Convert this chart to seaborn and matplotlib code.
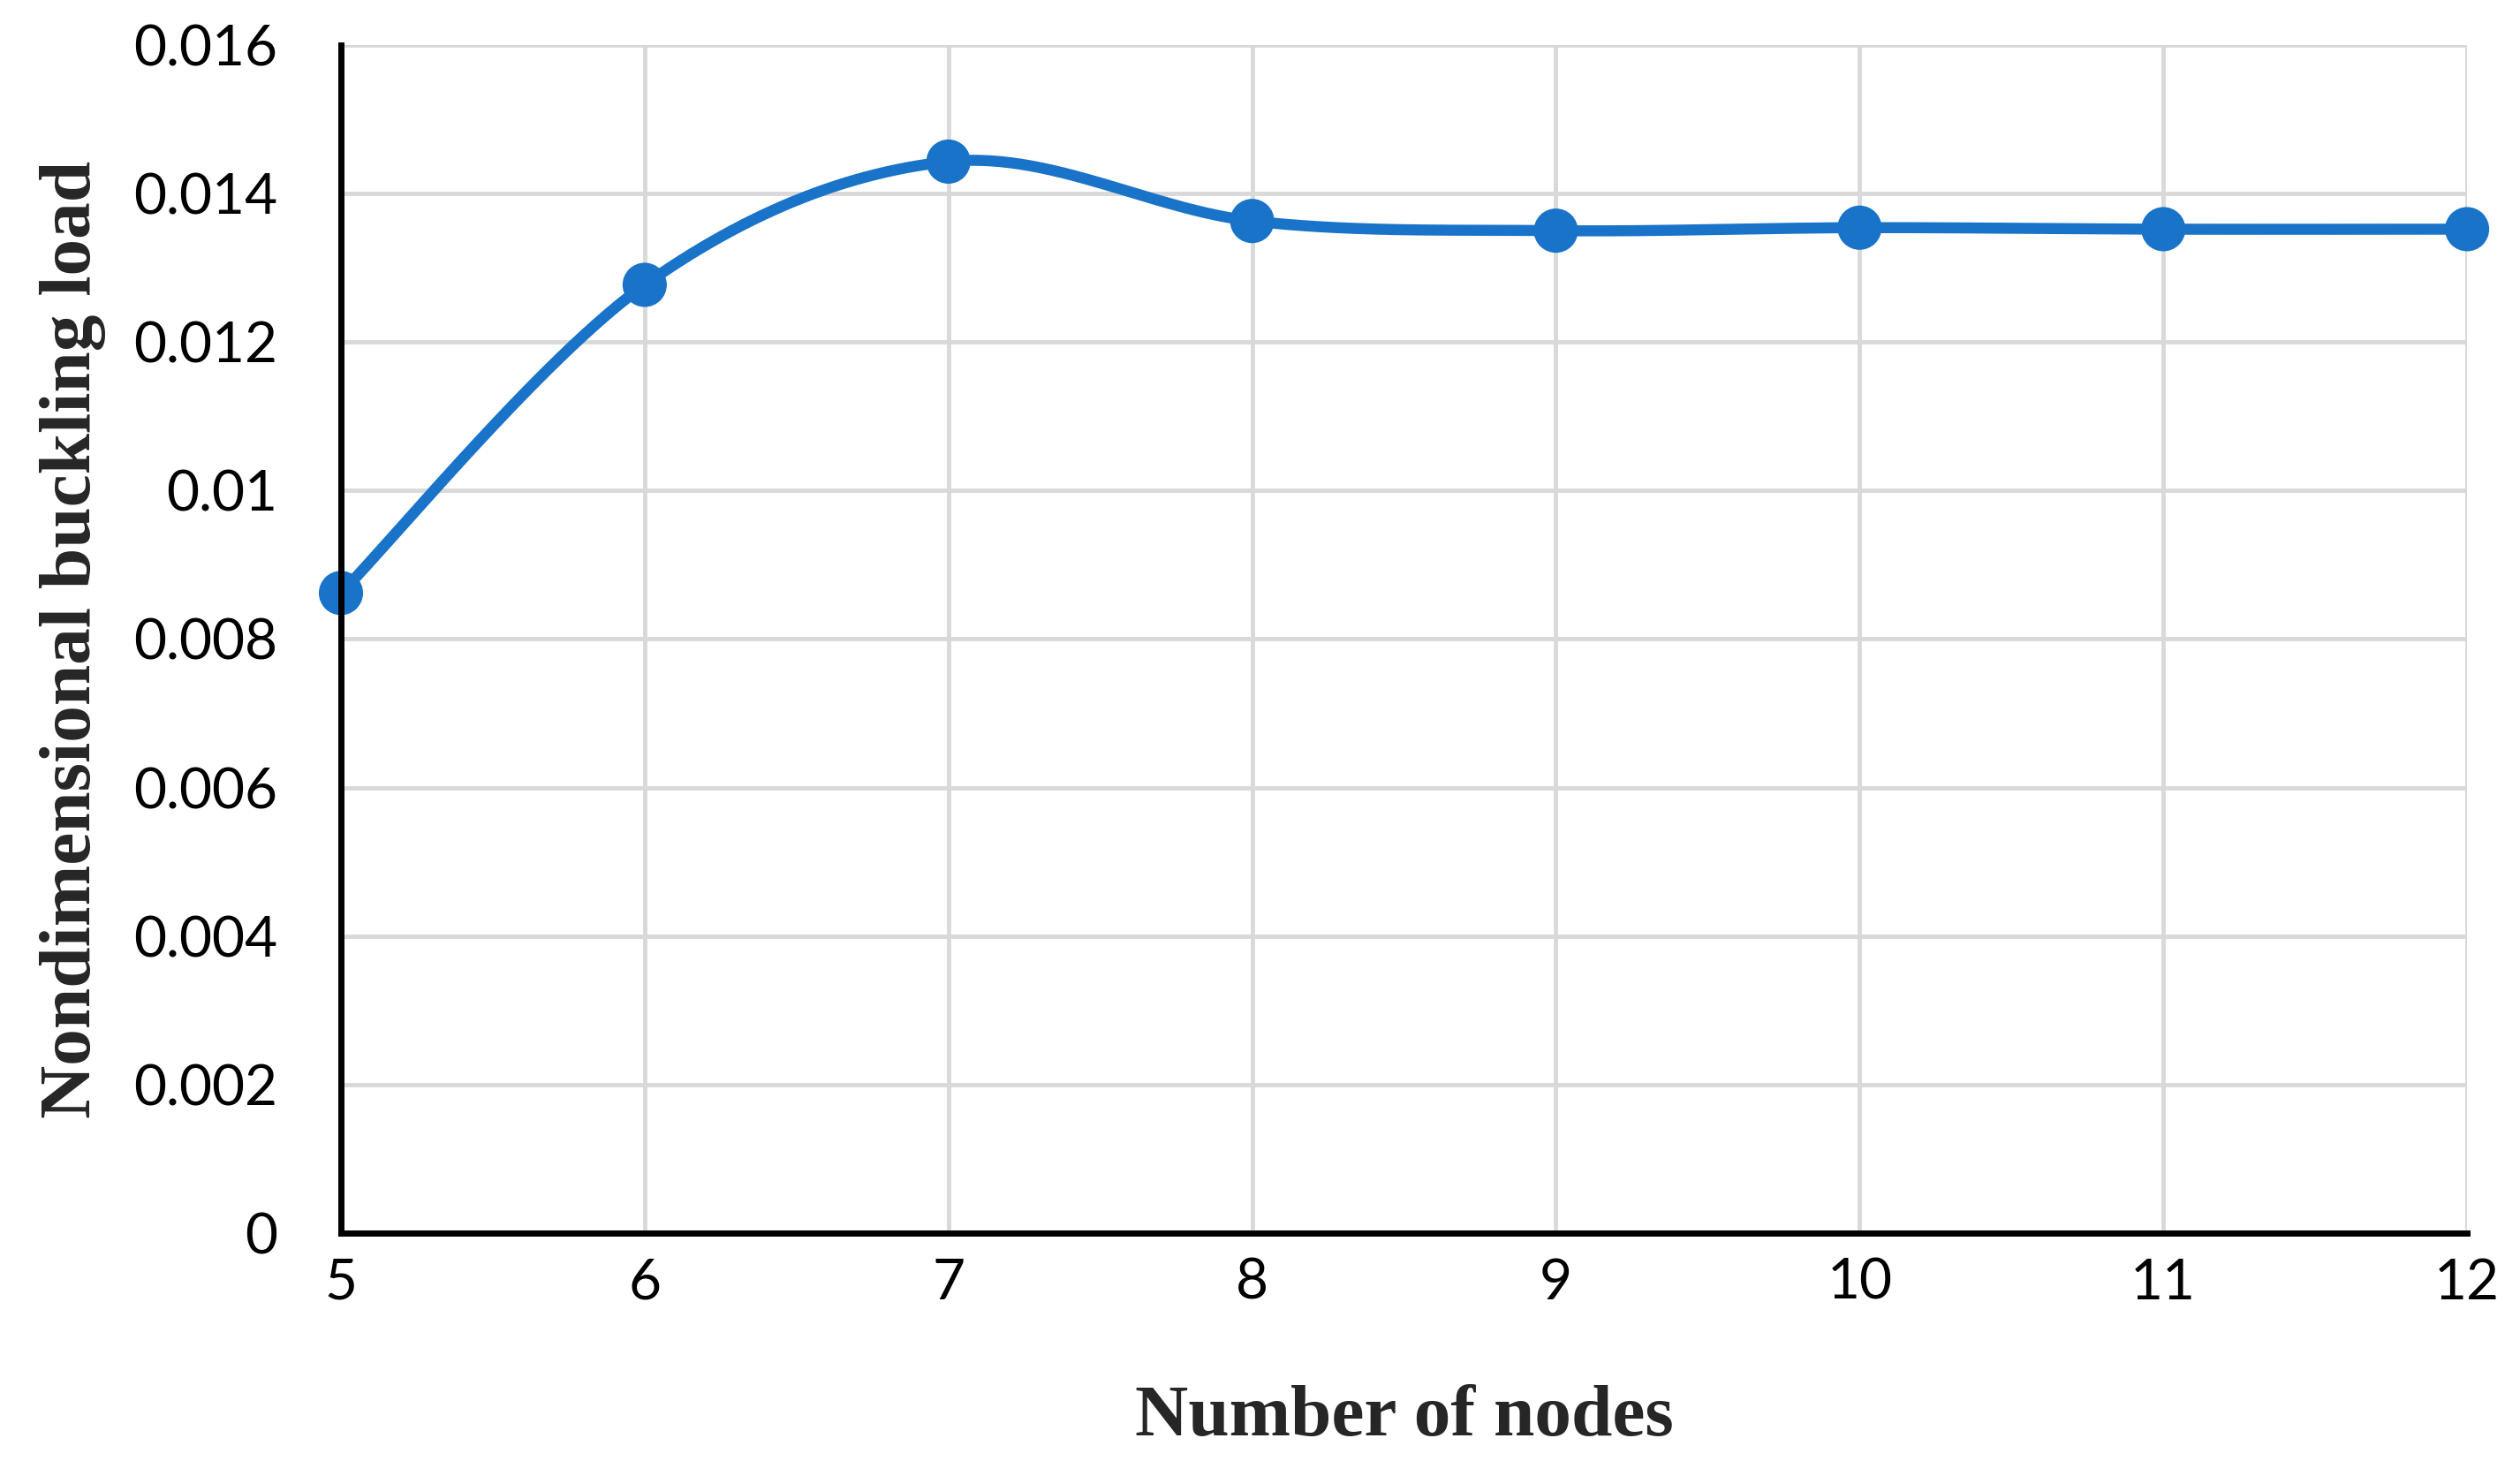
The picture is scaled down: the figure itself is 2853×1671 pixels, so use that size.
import numpy as np
import pandas as pd
import matplotlib
matplotlib.use('Agg')
import matplotlib.pyplot as plt
import seaborn as sns

nodes = [5, 6, 7, 8, 9, 10, 11, 12]
buckling_load = [0.00862, 0.01277, 0.01443, 0.01363, 0.01350, 0.01354, 0.01352, 0.01352]
y_ticks = [0, 0.002, 0.004, 0.006, 0.008, 0.01, 0.012, 0.014, 0.016]
y_tick_labels = ['0', '0.002', '0.004', '0.006', '0.008', '0.01', '0.012', '0.014', '0.016']

blue = '#1973C8'

# smooth line like the spreadsheet one (bezier through the points)
def smooth(xs, ys, n=60):
    p = np.column_stack([xs, ys]).astype(float)
    p = np.vstack([p[0], p, p[-1]])
    out = []
    for i in range(1, len(p) - 2):
        p0, p3 = p[i], p[i + 1]
        c1 = p0 + (p[i + 1] - p[i - 1]) / 6
        c2 = p3 - (p[i + 2] - p[i]) / 6
        t = np.linspace(0, 1, n)[:, None]
        seg = (1 - t) ** 3 * p0 + 3 * (1 - t) ** 2 * t * c1 + 3 * (1 - t) * t ** 2 * c2 + t ** 3 * p3
        out.append(seg if i == 1 else seg[1:])
    out = np.vstack(out)
    return pd.DataFrame({'x': out[:, 0], 'y': out[:, 1]})

df = pd.DataFrame({'nodes': nodes, 'load': buckling_load})
curve = smooth(nodes, buckling_load)

sns.set_style('white')
fig, ax = plt.subplots(figsize=(28.53, 16.71), dpi=100)
fig.subplots_adjust(left=0.1353, right=0.979, bottom=0.1646, top=0.9695)

sns.lineplot(data=curve, x='x', y='y', sort=False, color=blue, linewidth=9, ax=ax,
             estimator=None, clip_on=False, zorder=3)
sns.scatterplot(data=df, x='nodes', y='load', color=blue, s=1300, edgecolor='none',
                ax=ax, clip_on=False, zorder=4)

ax.set_xlim(5, 12)
ax.set_ylim(0, 0.016)
ax.set_xticks(nodes)
ax.set_xticklabels([str(n) for n in nodes])
ax.set_yticks(y_ticks)
ax.set_yticklabels(y_tick_labels)

ax.grid(True, color='#D9D9D9', linewidth=3.5)
ax.set_axisbelow(True)
for s in ['top', 'right']:
    ax.spines[s].set_visible(False)
for s in ['left', 'bottom']:
    ax.spines[s].set_color('black')
    ax.spines[s].set_linewidth(5)
    ax.spines[s].set_zorder(5)

ax.tick_params(axis='both', length=0, labelsize=46, colors='black')
ax.tick_params(axis='y', pad=52)
ax.tick_params(axis='x', pad=20)
for lab in ax.get_xticklabels() + ax.get_yticklabels():
    lab.set_family(['Lato', 'DejaVu Sans'])

ax.set_xlabel('Number of nodes', family='Liberation Serif', fontweight='bold', fontsize=60, labelpad=62)
ax.set_ylabel('Nondimensional buckling load', family='Liberation Serif', fontweight='bold', fontsize=60, labelpad=22)

fig.savefig('out.png', dpi=100, facecolor='white')
